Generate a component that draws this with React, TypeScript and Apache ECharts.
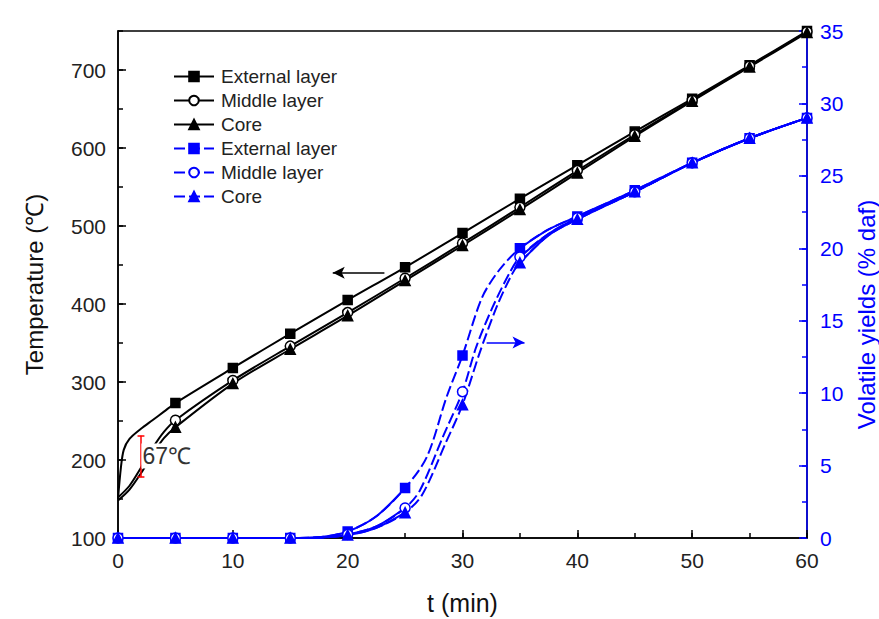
import React, { useEffect, useRef } from 'react';
import * as echarts from 'echarts';

// ---- data (t in min) ----
const tempExternal: [number, number][] = [
  [0, 150], [0.25, 190], [0.5, 213], [1, 227], [2, 240], [3, 251], [4, 262], [5, 273],
  [10, 318], [15, 362], [20, 405], [25, 447], [30, 491], [35, 535], [40, 578],
  [45, 621], [50, 663], [55, 706], [60, 750],
];
const tempMiddle: [number, number][] = [
  [0, 152], [1, 167], [2, 190], [3, 215], [4, 236], [5, 251],
  [10, 302], [15, 346], [20, 389], [25, 433], [30, 478], [35, 524], [40, 571],
  [45, 617], [50, 661], [55, 705], [60, 749],
];
const tempCore: [number, number][] = [
  [0, 148], [1, 162], [2, 183], [3, 207], [4, 228], [5, 242],
  [10, 298], [15, 342], [20, 385], [25, 430], [30, 475], [35, 521], [40, 568],
  [45, 615], [50, 660], [55, 704], [60, 748],
];
const volExternal: [number, number][] = [
  [0, 0], [5, 0], [10, 0], [15, 0], [17.5, 0.05], [20, 0.45], [22.5, 1.5], [25, 3.45],
  [26.9, 5.6], [28.6, 9.7], [30, 12.6], [31.7, 16.6], [33.2, 18.5], [35, 20.0],
  [37.5, 21.3], [40, 22.2], [45, 24.0], [50, 25.9], [55, 27.6], [60, 29.0],
];
const volMiddle: [number, number][] = [
  [0, 0], [5, 0], [10, 0], [15, 0], [17.5, 0.03], [20, 0.25], [22.5, 0.8], [25, 2.07],
  [26.3, 3.3], [28.3, 7.0], [30, 10.1], [31.2, 13.2], [32.6, 15.9], [34.1, 18.3], [35, 19.4],
  [37.5, 21.0], [40, 22.1], [45, 23.9], [50, 25.9], [55, 27.6], [60, 29.0],
];
const volCore: [number, number][] = [
  [0, 0], [5, 0], [10, 0], [15, 0], [17.5, 0.02], [20, 0.2], [22.5, 0.7], [25, 1.75],
  [26.5, 3.0], [28.5, 6.5], [30, 9.2], [31.5, 12.8], [33, 16.0], [34.3, 18.2], [35, 19.0],
  [37.5, 20.9], [40, 22.0], [45, 23.9], [50, 25.9], [55, 27.6], [60, 29.0],
];

const seriesNames = ['External layer', 'Middle layer', 'Core'];
const markerEvery = 5;
const dashedRange: [number, number] = [25, 35];

// annotations (data coordinates)
const tempArrow = { from: [23.2, 440], to: [18.7, 440] };
const volArrow = { from: [32.1, 13.5], to: [35.4, 13.5] };
const gapBar = { t: 2, high: 231, low: 178, half: 0.3 };
const gapLabel = { t: 1.95, value: 205, text: '67℃' };

const BLACK = '#000000';
const BLUE = '#0000ff';
const FONT = '"Liberation Sans", Arial, sans-serif';

const isMarker = (t: number) => Math.abs(t / markerEvery - Math.round(t / markerEvery)) < 1e-9;

export default function App() {
  const ref = useRef<HTMLDivElement>(null);

  useEffect(() => {
    document.body.style.margin = '0';
    const chart = echarts.init(ref.current!, undefined, { renderer: 'svg' });

    const symbols = ['rect', 'circle', 'triangle'];
    const sizes = [9, 10, 10];

    const mkSeries = (
      id: string,
      name: string,
      data: [number, number][],
      idx: number,
      color: string,
      yAxisIndex: number,
      dashed: boolean,
      minMarkerT: number,
      extra: any = {}
    ) => ({
      id,
      name,
      type: 'line',
      xAxisIndex: 0,
      yAxisIndex,
      data,
      smooth: 0.3,
      symbol: symbols[idx],
      symbolSize: (v: number[]) => (isMarker(v[0]) && v[0] >= minMarkerT ? sizes[idx] : 0),
      showAllSymbol: true,
      lineStyle: { color, width: 2, type: dashed ? [11, 4] : 'solid' },
      itemStyle: {
        color: idx === 1 ? '#ffffff' : color,
        borderColor: color,
        borderWidth: 1.5,
      },
      emphasis: { disabled: true },
      z: yAxisIndex === 1 ? 4 : 3,
      ...extra,
    });

    const tempData = [tempExternal, tempMiddle, tempCore];
    const volData = [volExternal, volMiddle, volCore];

    const series: any[] = [];
    tempData.forEach((d, i) => {
      const extra: any = {};
      if (i === 0) {
        extra.markLine = {
          silent: true,
          symbol: ['none', 'arrow'],
          symbolSize: [9, 12],
          label: { show: false },
          lineStyle: { color: BLACK, width: 1.5, type: 'solid' },
          data: [
            [{ coord: tempArrow.from }, { coord: tempArrow.to }],
            [
              { coord: [gapBar.t, gapBar.high], symbol: 'none', lineStyle: { color: '#ff0000', width: 1.5 } },
              { coord: [gapBar.t, gapBar.low], symbol: 'none' },
            ],
            [
              { coord: [gapBar.t - gapBar.half, gapBar.high], symbol: 'none', lineStyle: { color: '#ff0000', width: 1.5 } },
              { coord: [gapBar.t + gapBar.half, gapBar.high], symbol: 'none' },
            ],
            [
              { coord: [gapBar.t - gapBar.half, gapBar.low], symbol: 'none', lineStyle: { color: '#ff0000', width: 1.5 } },
              { coord: [gapBar.t + gapBar.half, gapBar.low], symbol: 'none' },
            ],
          ],
        };
        extra.markPoint = {
          silent: true,
          symbol: 'circle',
          symbolSize: 0,
          z: 10,
          data: [
            {
              coord: [gapLabel.t, gapLabel.value],
              label: {
                show: true,
                position: 'right',
                distance: 1,
                formatter: gapLabel.text,
                fontSize: 23,
                fontFamily: FONT,
                color: '#333333',
                backgroundColor: '#ffffff',
                padding: [2, 2, 0, 1],
              },
            },
          ],
        };
      }
      series.push(mkSeries('t' + i, seriesNames[i], d, i, BLACK, 0, false, 5, extra));
    });
    volData.forEach((d, i) => {
      const extra: any = {};
      if (i === 0) {
        extra.markLine = {
          silent: true,
          symbol: ['none', 'arrow'],
          symbolSize: [9, 12],
          label: { show: false },
          lineStyle: { color: BLUE, width: 1.5, type: 'solid' },
          data: [[{ coord: volArrow.from }, { coord: volArrow.to }]],
        };
      }
      series.push(mkSeries('v' + i, seriesNames[i] + '|v', d, i, BLUE, 1, true, 0, extra));
      // solid overlay outside the steep dashed section
      series.push({
        id: 'vs' + i,
        name: seriesNames[i] + '|solid',
        type: 'line',
        xAxisIndex: 0,
        yAxisIndex: 1,
        data: d.map(([t, v]) => (t > dashedRange[0] && t < dashedRange[1] ? [t, '-'] : [t, v])),
        smooth: 0.3,
        symbol: 'none',
        lineStyle: { color: BLUE, width: 2 },
        silent: true,
        z: 3,
      });
    });

    const legendNames = [...seriesNames, ...seriesNames.map((n) => n + '|v')];

    const labelStyle = { fontSize: 21, fontFamily: FONT, color: '#222222', margin: 12 };
    const minorAxisBase = {
      type: 'value',
      gridIndex: 1,
      axisLine: { show: false },
      axisLabel: { show: false },
      splitLine: { show: false },
      silent: true,
    };
    const gridBox = {
      left: 118,
      right: 72,
      top: 31,
      bottom: 81,
      containLabel: false,
      outerBoundsMode: 'none',
    };

    chart.setOption({
      animation: false,
      backgroundColor: '#ffffff',
      grid: [
        {
          ...gridBox,
          show: true,
          borderColor: BLACK,
          borderWidth: 1.5,
          backgroundColor: 'transparent',
        },
        { ...gridBox, show: false },
      ],
      legend: {
        orient: 'vertical',
        left: 168,
        top: 62,
        itemWidth: 40,
        itemHeight: 12,
        itemGap: 5,
        data: legendNames,
        formatter: (n: string) => n.split('|')[0],
        textStyle: { fontSize: 19, fontFamily: FONT, color: '#222222', padding: [0, 0, 0, 2] },
        selectedMode: false,
      },
      xAxis: [
        {
          type: 'value',
          gridIndex: 0,
          min: 0,
          max: 60,
          interval: 10,
          name: 't (min)',
          nameLocation: 'middle',
          nameGap: 52,
          nameTextStyle: { fontSize: 25, fontFamily: FONT, color: '#111111' },
          axisLine: { lineStyle: { color: BLACK, width: 1.5 } },
          axisTick: { inside: true, length: 8, lineStyle: { color: BLACK, width: 1.5 } },
          axisLabel: labelStyle,
          splitLine: { show: false },
        },
        {
          ...minorAxisBase,
          min: 0,
          max: 60,
          interval: 5,
          position: 'bottom',
          axisTick: { inside: true, length: 5, lineStyle: { color: BLACK, width: 1.5 } },
        },
      ],
      yAxis: [
        {
          type: 'value',
          gridIndex: 0,
          min: 100,
          max: 750,
          interval: 100,
          name: 'Temperature (℃)',
          nameLocation: 'middle',
          nameGap: 72,
          nameTextStyle: { fontSize: 24, fontFamily: FONT, color: '#111111' },
          axisLine: { show: true, lineStyle: { color: BLACK, width: 1.5 } },
          axisTick: { inside: true, length: 8, lineStyle: { color: BLACK, width: 1.5 } },
          axisLabel: { ...labelStyle, showMaxLabel: false },
          splitLine: { show: false },
        },
        {
          type: 'value',
          gridIndex: 0,
          min: 0,
          max: 35,
          interval: 5,
          position: 'right',
          name: 'Volatile yields (% daf)',
          nameLocation: 'middle',
          nameGap: 39,
          nameTextStyle: { fontSize: 24, fontFamily: FONT, color: BLUE, padding: [0, 60, 0, 0] },
          axisLine: { show: true, lineStyle: { color: BLUE, width: 1.5 } },
          axisTick: { inside: true, length: 8, lineStyle: { color: BLUE, width: 1.5 } },
          axisLabel: { ...labelStyle, color: BLUE, margin: 13 },
          splitLine: { show: false },
        },
        {
          ...minorAxisBase,
          min: 100,
          max: 750,
          interval: 50,
          position: 'left',
          axisTick: { inside: true, length: 5, lineStyle: { color: BLACK, width: 1.5 } },
        },
        {
          ...minorAxisBase,
          min: 0,
          max: 35,
          interval: 2.5,
          position: 'right',
          axisTick: { inside: true, length: 5, lineStyle: { color: BLUE, width: 1.5 } },
        },
      ],
      series,
    });

    return () => chart.dispose();
  }, []);

  return <div ref={ref} style={{ width: 879, height: 619 }} />;
}
